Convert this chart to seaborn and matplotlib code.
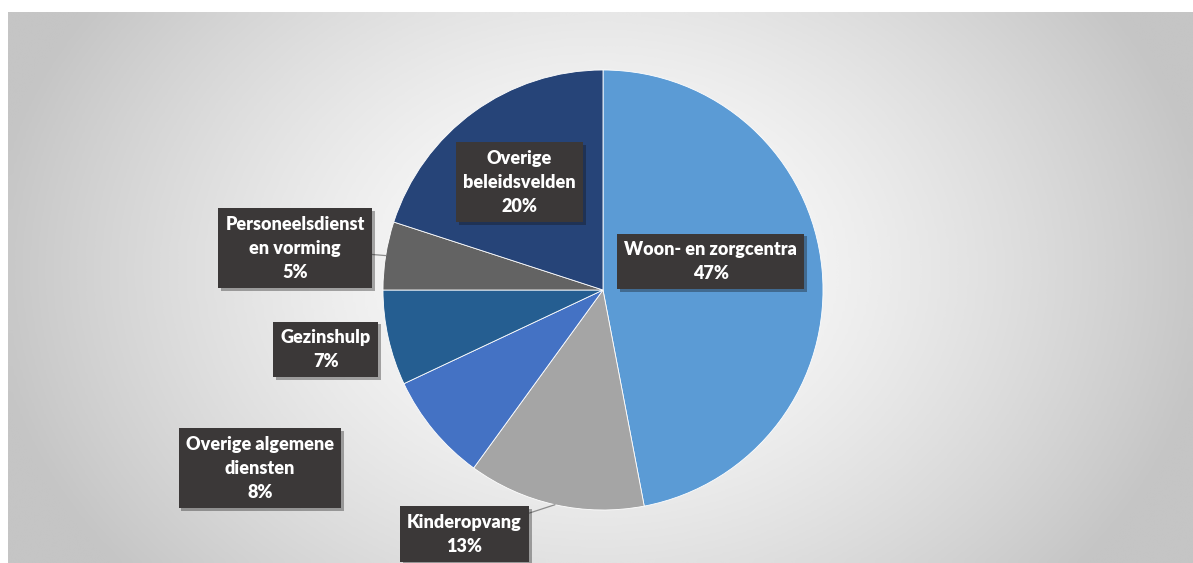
import numpy as np
import matplotlib.pyplot as plt
import matplotlib.patheffects as pe
import seaborn as sns

sns.set_theme(style="white")
plt.rcParams['font.family'] = ['Lato', 'DejaVu Sans']

# data
categories = ['Woon- en zorgcentra', 'Kinderopvang', 'Overige algemene\ndiensten',
              'Gezinshulp', 'Personeelsdienst\nen vorming', 'Overige\nbeleidsvelden']
shares = [47, 13, 8, 7, 5, 20]
colors = sns.color_palette(['#5B9BD5', '#A5A5A5', '#4472C4', '#255E91', '#636363', '#264478'])

# label box centres, in units of the pie radius
label_pos = [(0.49, 0.13), (-0.63, -1.11), (-1.56, -0.81),
             (-1.26, -0.27), (-1.40, 0.19), (-0.38, 0.49)]
with_leader = [False, True, False, False, True, False]

W, H = 1193, 563
fig = plt.figure(figsize=(W / 100, H / 100), dpi=100)
fig.patch.set_facecolor('white')

# radial gradient background of the chart area
bg = fig.add_axes([8 / W, 0, (W - 8) / W, (H - 12) / H])
xx, yy = np.meshgrid(np.linspace(8, W, 400), np.linspace(12, H, 200))
d = np.sqrt(((xx - 600) / 620) ** 2 + ((yy - 270) / 480) ** 2)
shade = 1 - 0.23 * np.clip(d, 0, 1) ** 1.4
bg.imshow(shade, cmap='gray', vmin=0, vmax=1, aspect='auto',
          extent=[0, 1, 0, 1], origin='upper', interpolation='bicubic')
bg.set_axis_off()

# pie axes: centre (603, 290) px, radius 220 px
r = 220
ax = fig.add_axes([(603 - r) / W, (H - 290 - r) / H, 2 * r / W, 2 * r / H])
wedges, _ = ax.pie(shares, colors=colors, startangle=90, counterclock=False,
                   radius=1, wedgeprops=dict(edgecolor='white', linewidth=0.6))
ax.set_xlim(-1, 1)
ax.set_ylim(-1, 1)
ax.set_axis_off()

box = dict(boxstyle='square,pad=0.4', facecolor='#3b3838', edgecolor='none')
style = dict(ha='center', va='center', multialignment='center', color='white',
             fontsize=13, fontweight='heavy', linespacing=1.5, bbox=box)
for w, cat, val, pos, lead in zip(wedges, categories, shares, label_pos, with_leader):
    txt = f'{cat}\n{val}%'
    if lead:
        ang = np.deg2rad((w.theta1 + w.theta2) / 2)
        edge = (np.cos(ang), np.sin(ang))
        t = ax.annotate(txt, xy=edge, xytext=pos, annotation_clip=False,
                        arrowprops=dict(arrowstyle='-', color='#8c8c8c', lw=0.9,
                                        shrinkA=0, shrinkB=0), **style)
    else:
        t = ax.text(pos[0], pos[1], txt, **style)
    t.get_bbox_patch().set_path_effects([
        pe.SimplePatchShadow(offset=(2, -2), alpha=0.35), pe.Normal()])

fig.savefig('out.png', dpi=100)
